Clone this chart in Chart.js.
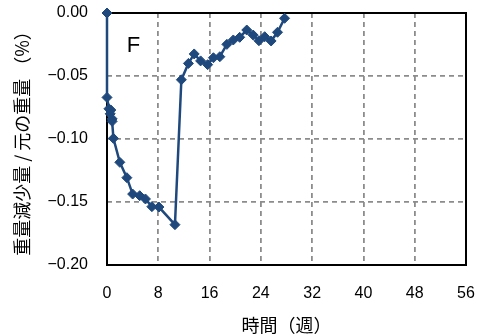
<!DOCTYPE html>
<html>
<head>
<meta charset="utf-8">
<script src="https://cdn.jsdelivr.net/npm/chart.js@4/dist/chart.umd.min.js"></script>
<style>
  html, body { margin: 0; padding: 0; background: #fff; }
  #wrap { width: 477px; height: 336px; position: relative; }
</style>
</head>
<body>
<div id="wrap"><canvas id="c"></canvas></div>
<script>
// Specimen F: weight change over time (weeks)
const weeks = [0, 0, 0.3, 0.6, 0.5, 0.8, 0.8, 1.0, 2.0, 3.1, 4.0, 5.1, 6.0, 7.0, 8.1, 10.6,
               11.6, 12.7, 13.6, 14.6, 15.7, 16.6, 17.6, 18.7, 19.7, 20.7, 21.8, 22.8, 23.7, 24.6, 25.6, 26.6, 27.7];
const lossPct = [0.000, -0.067, -0.076, -0.077, -0.080, -0.084, -0.086, -0.0995, -0.1185, -0.1307, -0.1437, -0.145, -0.1476, -0.1537, -0.154, -0.168,
                 -0.053, -0.040, -0.0325, -0.038, -0.041, -0.0355, -0.0347, -0.0249, -0.0214, -0.0193, -0.0135, -0.0175, -0.022, -0.0188, -0.0222, -0.0153, -0.0042];
const xTicks = [0, 8, 16, 24, 32, 40, 48, 56];
const yTicks = [0.00, -0.05, -0.10, -0.15, -0.20];
const panelLabel = 'F';
const xTitle = '時間（週）';
const yTitle = '重量減少量 / 元の重量 （%）';

const FONT = '"Noto Sans CJK JP", "Noto Sans", sans-serif';
const NUMFONT = '"Liberation Sans", Arial, sans-serif';
const BLUE = '#1F497D';

const points = weeks.map((w, i) => ({ x: w, y: lossPct[i] }));

const framePlugin = {
  id: 'frame',
  beforeDatasetsDraw(chart) {
    const { ctx, chartArea: a } = chart;
    ctx.save();
    ctx.strokeStyle = '#000';
    ctx.lineWidth = 2;
    ctx.strokeRect(a.left, a.top, a.right - a.left, a.bottom - a.top);
    ctx.restore();
  },
  afterDraw(chart) {
    const { ctx, chartArea: a } = chart;
    ctx.save();
    ctx.fillStyle = '#000';
    ctx.font = '22px "Liberation Sans Narrow", ' + NUMFONT;
    ctx.textAlign = 'center';
    ctx.textBaseline = 'middle';
    ctx.fillText(panelLabel, a.left + 26.5, a.top + 33);
    ctx.restore();
  }
};

const gridColor = (edgeVals) => (c) => {
  const v = c.tick ? c.tick.value : null;
  return edgeVals.includes(v) ? 'rgba(0,0,0,0)' : '#8c8c8c';
};

new Chart(document.getElementById('c'), {
  type: 'line',
  data: {
    datasets: [{
      data: points,
      borderColor: BLUE,
      backgroundColor: BLUE,
      borderWidth: 2.5,
      pointStyle: 'rectRot',
      pointRadius: 5,
      pointBorderWidth: 1,
      pointBackgroundColor: BLUE,
      pointBorderColor: BLUE,
      tension: 0,
      clip: false
    }]
  },
  options: {
    responsive: true,
    maintainAspectRatio: false,
    animation: false,
    events: [],
    layout: { padding: { top: 13, right: 11, left: 0, bottom: 0 } },
    plugins: { legend: { display: false }, tooltip: { enabled: false } },
    scales: {
      x: {
        type: 'linear',
        min: 0, max: 56,
        afterBuildTicks: (s) => { s.ticks = xTicks.map(v => ({ value: v })); },
        afterFit: (s) => { s.height = 71; s.paddingLeft = 0; s.paddingRight = 0; },
        ticks: { padding: 19, color: '#000', font: { family: NUMFONT, size: 16 }, maxRotation: 0 },
        grid: { color: gridColor([0, 56]), lineWidth: 1.8, drawTicks: false },
        border: { display: false, dash: [5, 4] },
        title: { display: true, text: xTitle, color: '#000', font: { family: FONT, size: 18 }, padding: { top: 0, bottom: 0 } }
      },
      y: {
        type: 'linear',
        min: -0.20, max: 0,
        afterBuildTicks: (s) => { s.ticks = yTicks.map(v => ({ value: v })); },
        afterFit: (s) => { s.width = 107; s.paddingTop = 0; s.paddingBottom = 0; },
        ticks: {
          padding: 19, color: '#000', font: { family: NUMFONT, size: 16 },
          callback: (v) => v.toFixed(2).replace('-', '\u2212')
        },
        grid: { color: gridColor([0, -0.2]), lineWidth: 1.8, drawTicks: false },
        border: { display: false, dash: [5, 4] },
        title: { display: true, text: yTitle, color: '#000', font: { family: FONT, size: 18 }, padding: { top: 11, bottom: 0 } }
      }
    }
  },
  plugins: [framePlugin]
});
</script>
</body>
</html>
